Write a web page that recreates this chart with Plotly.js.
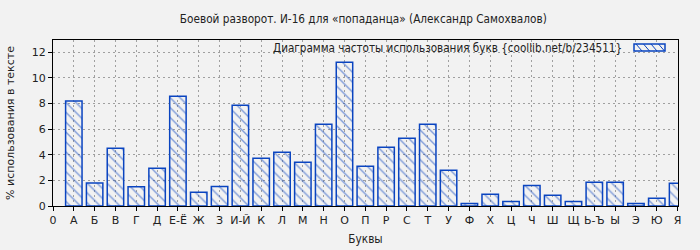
<!DOCTYPE html>
<html>
<head>
<meta charset="utf-8">
<script src="https://cdn.plot.ly/plotly-3.0.1.min.js"></script>
<style>html,body{margin:0;padding:0;background:#f2f2f2;}#chart{width:700px;height:250px;}</style>
</head>
<body>
<div id="chart"></div>
<script>
const tickLabels = ['0','А','Б','В','Г','Д','Е-Ё','Ж','З','И-Й','К','Л','М','Н','О','П','Р','С','Т','У','Ф','Х','Ц','Ч','Ш','Щ','Ь-Ъ','Ы','Э','Ю','Я'];
const letters = tickLabels.slice(1);
const letterPositions = [1,2,3,4,5,6,7,8,9,10,11,12,13,14,15,16,17,18,19,20,21,22,23,24,25,26,27,28,29,30];
const usagePercent = [8.2,1.8,4.5,1.5,2.95,8.56,1.07,1.53,7.86,3.72,4.19,3.41,6.38,11.22,3.1,4.58,5.28,6.38,2.79,0.2,0.91,0.36,1.61,0.83,0.36,1.85,1.85,0.2,0.6,1.77];
const tickPositions = [0,1,2,3,4,5,6,7,8,9,10,11,12,13,14,15,16,17,18,19,20,21,22,23,24,25,26,27,28,29,30];

const blue = '#0a44c0';
const W = 700, H = 250, mL = 53, mR = 22, mT = 40, mB = 44;
const pw = W - mL - mR, ph = H - mT - mB;
const px = x => (x - mL) / pw;
const py = y => (H - mB - y) / ph;

// legend swatch (decoration) in pixel terms
const sx0 = 634, sx1 = 665, sy0 = 44, sy1 = 51;
let hatch = '';
for (let k = 0; k < 4; k++) {
  const a = sx0 + 2 + k * 7.5;
  hatch += `M${px(a)},${py(sy0)} L${px(Math.min(a + 6, sx1))},${py(sy1)} `;
}

const trace = {
  type: 'bar',
  x: letterPositions,
  y: usagePercent,
  hovertext: letters,
  textposition: 'none',
  width: 0.79,
  marker: {
    color: 'rgba(0,0,0,0)',
    line: {color: blue, width: 1.5},
    pattern: {shape: '\\', fgcolor: blue, bgcolor: 'rgba(0,0,0,0)', size: 7, solidity: 0.2, fillmode: 'overlay'}
  },
  showlegend: false,
  cliponaxis: true
};

const layout = {
  width: W, height: H,
  margin: {l: mL, r: mR, t: mT, b: mB, pad: 0},
  paper_bgcolor: '#f2f2f2',
  plot_bgcolor: '#f2f2f2',
  font: {family: 'DejaVu Sans', size: 11, color: '#222'},
  title: {text: 'Боевой разворот. И-16 для «попаданца» (Александр Самохвалов)', font: {family: 'DejaVu Sans Condensed', size: 11.7, color: '#222'}, x: 0.519, xanchor: 'center', y: 0.925, yanchor: 'middle'},
  xaxis: {
    range: [0, 30.02],
    tickvals: tickPositions,
    ticktext: tickLabels,
    tickangle: 0,
    ticks: 'outside', ticklen: 4, tickcolor: '#000',
    showline: true, linecolor: '#000', linewidth: 1, mirror: true,
    showgrid: true, gridcolor: '#a0a0a0', griddash: '2px,3px', gridwidth: 1,
    zeroline: false,
    tickfont: {family: 'DejaVu Sans', size: 11, color: '#222'},
    title: {text: 'Буквы', font: {family: 'DejaVu Sans Condensed', size: 11.7, color: '#222'}, standoff: 8}
  },
  yaxis: {
    range: [0, 12.96],
    tickvals: [0,2,4,6,8,10,12],
    ticks: 'outside', ticklen: 4, tickcolor: '#000',
    showline: true, linecolor: '#000', linewidth: 1, mirror: true,
    showgrid: true, gridcolor: '#a0a0a0', griddash: '2px,3px', gridwidth: 1,
    zeroline: false,
    tickfont: {family: 'DejaVu Sans', size: 11, color: '#222'},
    title: {text: '% использования в тексте', font: {family: 'DejaVu Sans', size: 11, color: '#222'}, standoff: 14}
  },
  showlegend: false,
  annotations: [{
    xref: 'paper', yref: 'paper', x: px(624), y: py(47.5), xanchor: 'right', yanchor: 'middle',
    text: 'Диаграмма частоты использования букв {coollib.net/b/234511}', showarrow: false,
    font: {family: 'DejaVu Sans Condensed', size: 11.6, color: '#222'}
  }],
  shapes: [
    {type: 'rect', xref: 'paper', yref: 'paper', x0: px(sx0), x1: px(sx1), y0: py(sy1), y1: py(sy0), line: {color: blue, width: 1.5}, fillcolor: '#f2f2f2', layer: 'above'},
    {type: 'path', xref: 'paper', yref: 'paper', path: hatch, line: {color: blue, width: 1}, layer: 'above'}
  ]
};

Plotly.newPlot('chart', [trace], layout, {displayModeBar: false, staticPlot: true});
</script>
</body>
</html>
